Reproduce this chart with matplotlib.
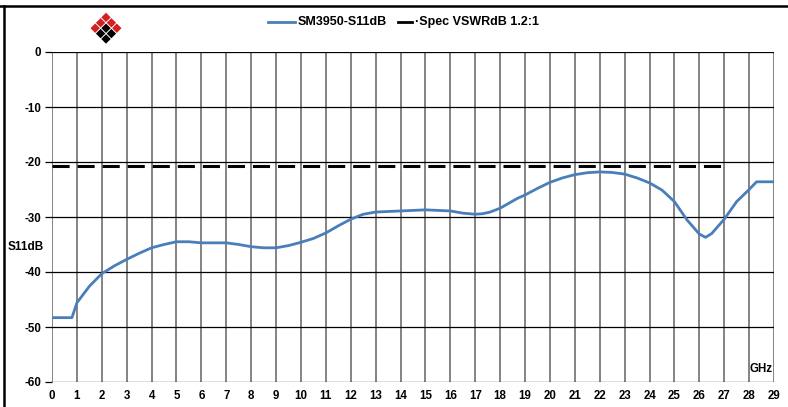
import matplotlib
matplotlib.use("Agg")
import matplotlib.pyplot as plt
from matplotlib.patches import Polygon
from matplotlib.lines import Line2D

plt.rcParams['font.family'] = ['Liberation Sans', 'DejaVu Sans']

freq_ghz = [0, 0.5, 0.8, 1.0, 1.5, 2.0, 2.5, 3.0, 3.5, 4.0, 4.5, 5.0, 5.5, 6.0, 7.0,
            7.5, 8.0, 8.5, 9.0, 9.5, 10.0, 10.5, 11.0, 11.5, 12.0, 12.5, 13.0, 14.0,
            15.0, 16.0, 16.5, 17.0, 17.3, 17.6, 18.0, 18.7, 19.0, 19.5, 20.0, 20.5,
            21.0, 21.5, 22.0, 22.5, 23.0, 23.5, 24.0, 24.5, 25.0, 25.5, 26.0, 26.25,
            26.5, 27.0, 27.5, 28.0, 28.3, 29.0]
s11_db = [-48.3, -48.3, -48.3, -45.6, -42.6, -40.3, -38.9, -37.7, -36.6, -35.6, -35.0,
          -34.5, -34.5, -34.7, -34.7, -35.0, -35.4, -35.6, -35.6, -35.2, -34.6, -33.9,
          -32.9, -31.6, -30.4, -29.5, -29.1, -28.9, -28.7, -28.9, -29.3, -29.5, -29.4,
          -29.1, -28.4, -26.6, -26.0, -24.8, -23.7, -22.9, -22.3, -21.95, -21.8, -21.9,
          -22.2, -22.9, -23.8, -25.1, -27.2, -30.5, -33.1, -33.7, -33.0, -30.4, -27.2,
          -25.0, -23.6, -23.6]
spec_freq = [0, 27]
spec_db = [-20.7, -20.7]

series_names = ["SM3950-S11dB", "\u00b7Spec VSWRdB 1.2:1"]
x_ticks = list(range(0, 30))
y_ticks = [0, -10, -20, -30, -40, -50, -60]

W, H = 788, 407
fig = plt.figure(figsize=(W / 100, H / 100), dpi=100)
fig.patch.set_facecolor('white')

x0, x1 = 52, 774
y0, y1 = 52, 382
ax = fig.add_axes([x0 / W, 1 - y1 / H, (x1 - x0) / W, (y1 - y0) / H])
ax.set_xlim(0, 29)
ax.set_ylim(-60, 0)

for x in x_ticks:
    ax.axvline(x, color='#7a7a7a', lw=1.3, zorder=1)
for y in y_ticks:
    ax.axhline(y, color='black', lw=0.9, zorder=1.5)

ax.plot(spec_freq, spec_db, color='black', lw=2.2, dashes=(5.6, 2.6), zorder=3,
        dash_capstyle='butt')
ax.plot(freq_ghz, s11_db, color='#4A7EBB', lw=2.0, zorder=4,
        solid_joinstyle='round', solid_capstyle='round')

for s in ax.spines.values():
    s.set_visible(False)
ax.set_xticks(x_ticks)
ax.set_xticklabels([str(t) for t in x_ticks], fontsize=8.3, fontweight='bold')
ax.set_yticks(y_ticks)
ax.set_yticklabels([str(t) for t in y_ticks], fontsize=8.3, fontweight='bold')
ax.tick_params(axis='x', length=0, pad=6)
ax.tick_params(axis='y', length=5, width=0.9, color='black', pad=3)

fig.text(8 / W, 1 - 247 / H, "S11dB", fontsize=8.5, fontweight='bold',
         ha='left', va='center')
ax.text(28.95, -58.8, "GHz", fontsize=8.3, fontweight='bold', ha='right', va='bottom')

# legend
ly = 1 - 22 / H
fig.add_artist(Line2D([268 / W, 295 / W], [ly, ly], color='#4A7EBB', lw=2.0))
fig.text(298 / W, ly, series_names[0], fontsize=9, fontweight='bold', ha='left', va='center')
fig.add_artist(Line2D([398 / W, 412 / W], [ly, ly], color='black', lw=2.0))
fig.text(415 / W, ly, series_names[1], fontsize=9, fontweight='bold', ha='left', va='center')

# frame
fig.add_artist(Line2D([0, 1], [1 - 6 / H, 1 - 6 / H], color='black', lw=1.8))
fig.add_artist(Line2D([4 / W, 4 / W], [0, 1 - 6 / H], color='black', lw=1.8))

# logo
cx, cy, d = 106, 12, 5.4
g = 0.7
for i in range(3):
    for j in range(3):
        px = cx + (j - i) * d
        py = cy + (i + j) * d + d
        col = '#D42020' if (i == 0 or j == 0) else 'black'
        r = d - g
        pts = [(px, py - r), (px + r, py), (px, py + r), (px - r, py)]
        pts = [(p[0] / W, 1 - p[1] / H) for p in pts]
        fig.add_artist(Polygon(pts, closed=True, facecolor=col, edgecolor='none',
                               transform=fig.transFigure))

fig.savefig("out.png", dpi=100)
